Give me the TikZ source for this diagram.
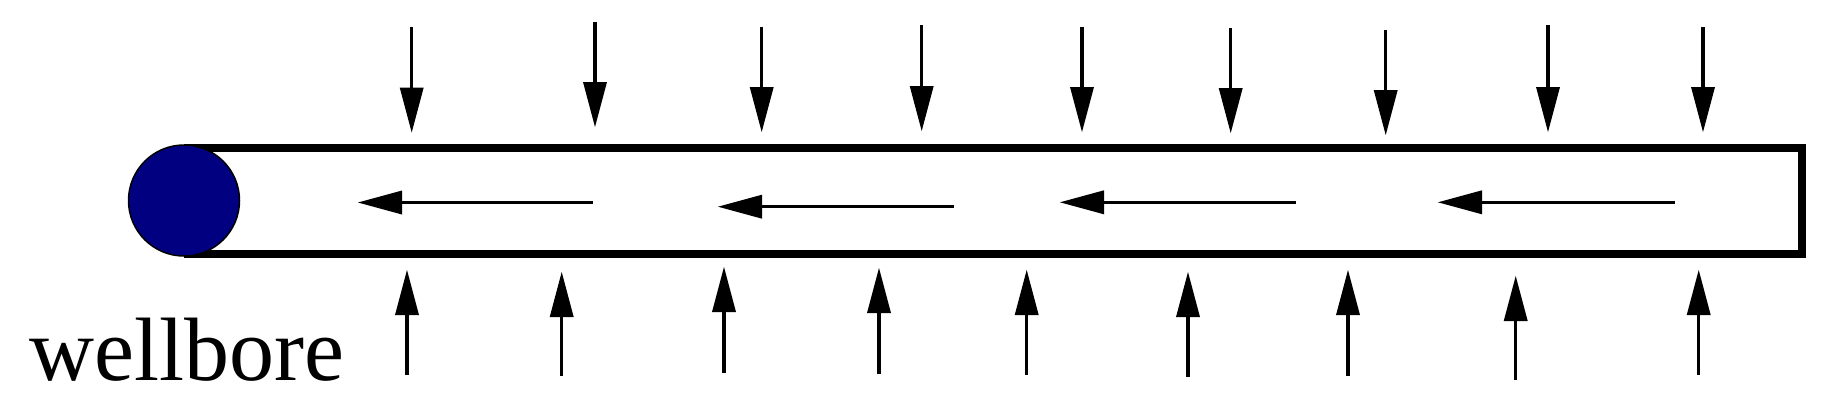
\documentclass[tikz,border=0pt]{standalone}
\usepackage{fontspec}
\setmainfont{Liberation Serif}
\usetikzlibrary{arrows.meta}
\definecolor{wellnavy}{RGB}{0,0,128}
\begin{document}
\begin{tikzpicture}[x=1pt,y=-1pt,
  tube/.style={line width=8pt,line join=miter},
  flux/.style={line width=3.2pt,-{Triangle[length=45pt,width=24pt,line width=0pt]}},
  flow/.style={line width=3.2pt,-{Triangle[length=44pt,width=24pt,line width=0pt]}},
  wellpt/.style={circle,draw=black,line width=1.5pt,fill=wellnavy,minimum size=111pt,inner sep=0pt},
  label/.style={font=\fontsize{90pt}{100pt}\selectfont,anchor=base west,inner sep=0pt}]
\useasboundingbox (0,0) rectangle (1823,416);
% tube
\coordinate (tl) at (184,147.5);
\coordinate (tr) at (1802,147.5);
\coordinate (br) at (1802,253.5);
\coordinate (bl) at (184,253.5);
\draw[tube] (tl) -- (tr) -- (br) -- (bl);
\node[wellpt] (well) at (184,200.5) {};
\node[label] (lbl) at (29,380) {wellbore};
% arrows from above
\foreach \i/\x/\a/\b in {1/411.7/27/132.5,2/595/22/127,3/761.7/27/132,4/921.7/25/131,5/1082/27/132,6/1230.7/28/133,7/1385.7/30/135,8/1548/25/132,9/1703/27/132}{
  \coordinate (ts\i) at (\x,\a);
  \coordinate (te\i) at (\x,\b);
  \draw[flux] (ts\i) -- (te\i);
}
% arrows from below
\foreach \i/\x/\a/\b in {1/407/375/270,2/561.7/376/272,3/724/373/267,4/879/374/268,5/1026.7/375/270,6/1188/377/272,7/1348/376/270,8/1515.7/380/276,9/1698.7/375/270}{
  \coordinate (bs\i) at (\x,\a);
  \coordinate (be\i) at (\x,\b);
  \draw[flux] (bs\i) -- (be\i);
}
% flow along the well
\foreach \i/\s/\e/\y in {1/593/358/202.5,2/954/718/206.7,3/1296/1060/202.3,4/1675/1438/202.3}{
  \coordinate (fs\i) at (\s,\y);
  \coordinate (fe\i) at (\e,\y);
  \draw[flow] (fs\i) -- (fe\i);
}
\end{tikzpicture}
\end{document}
